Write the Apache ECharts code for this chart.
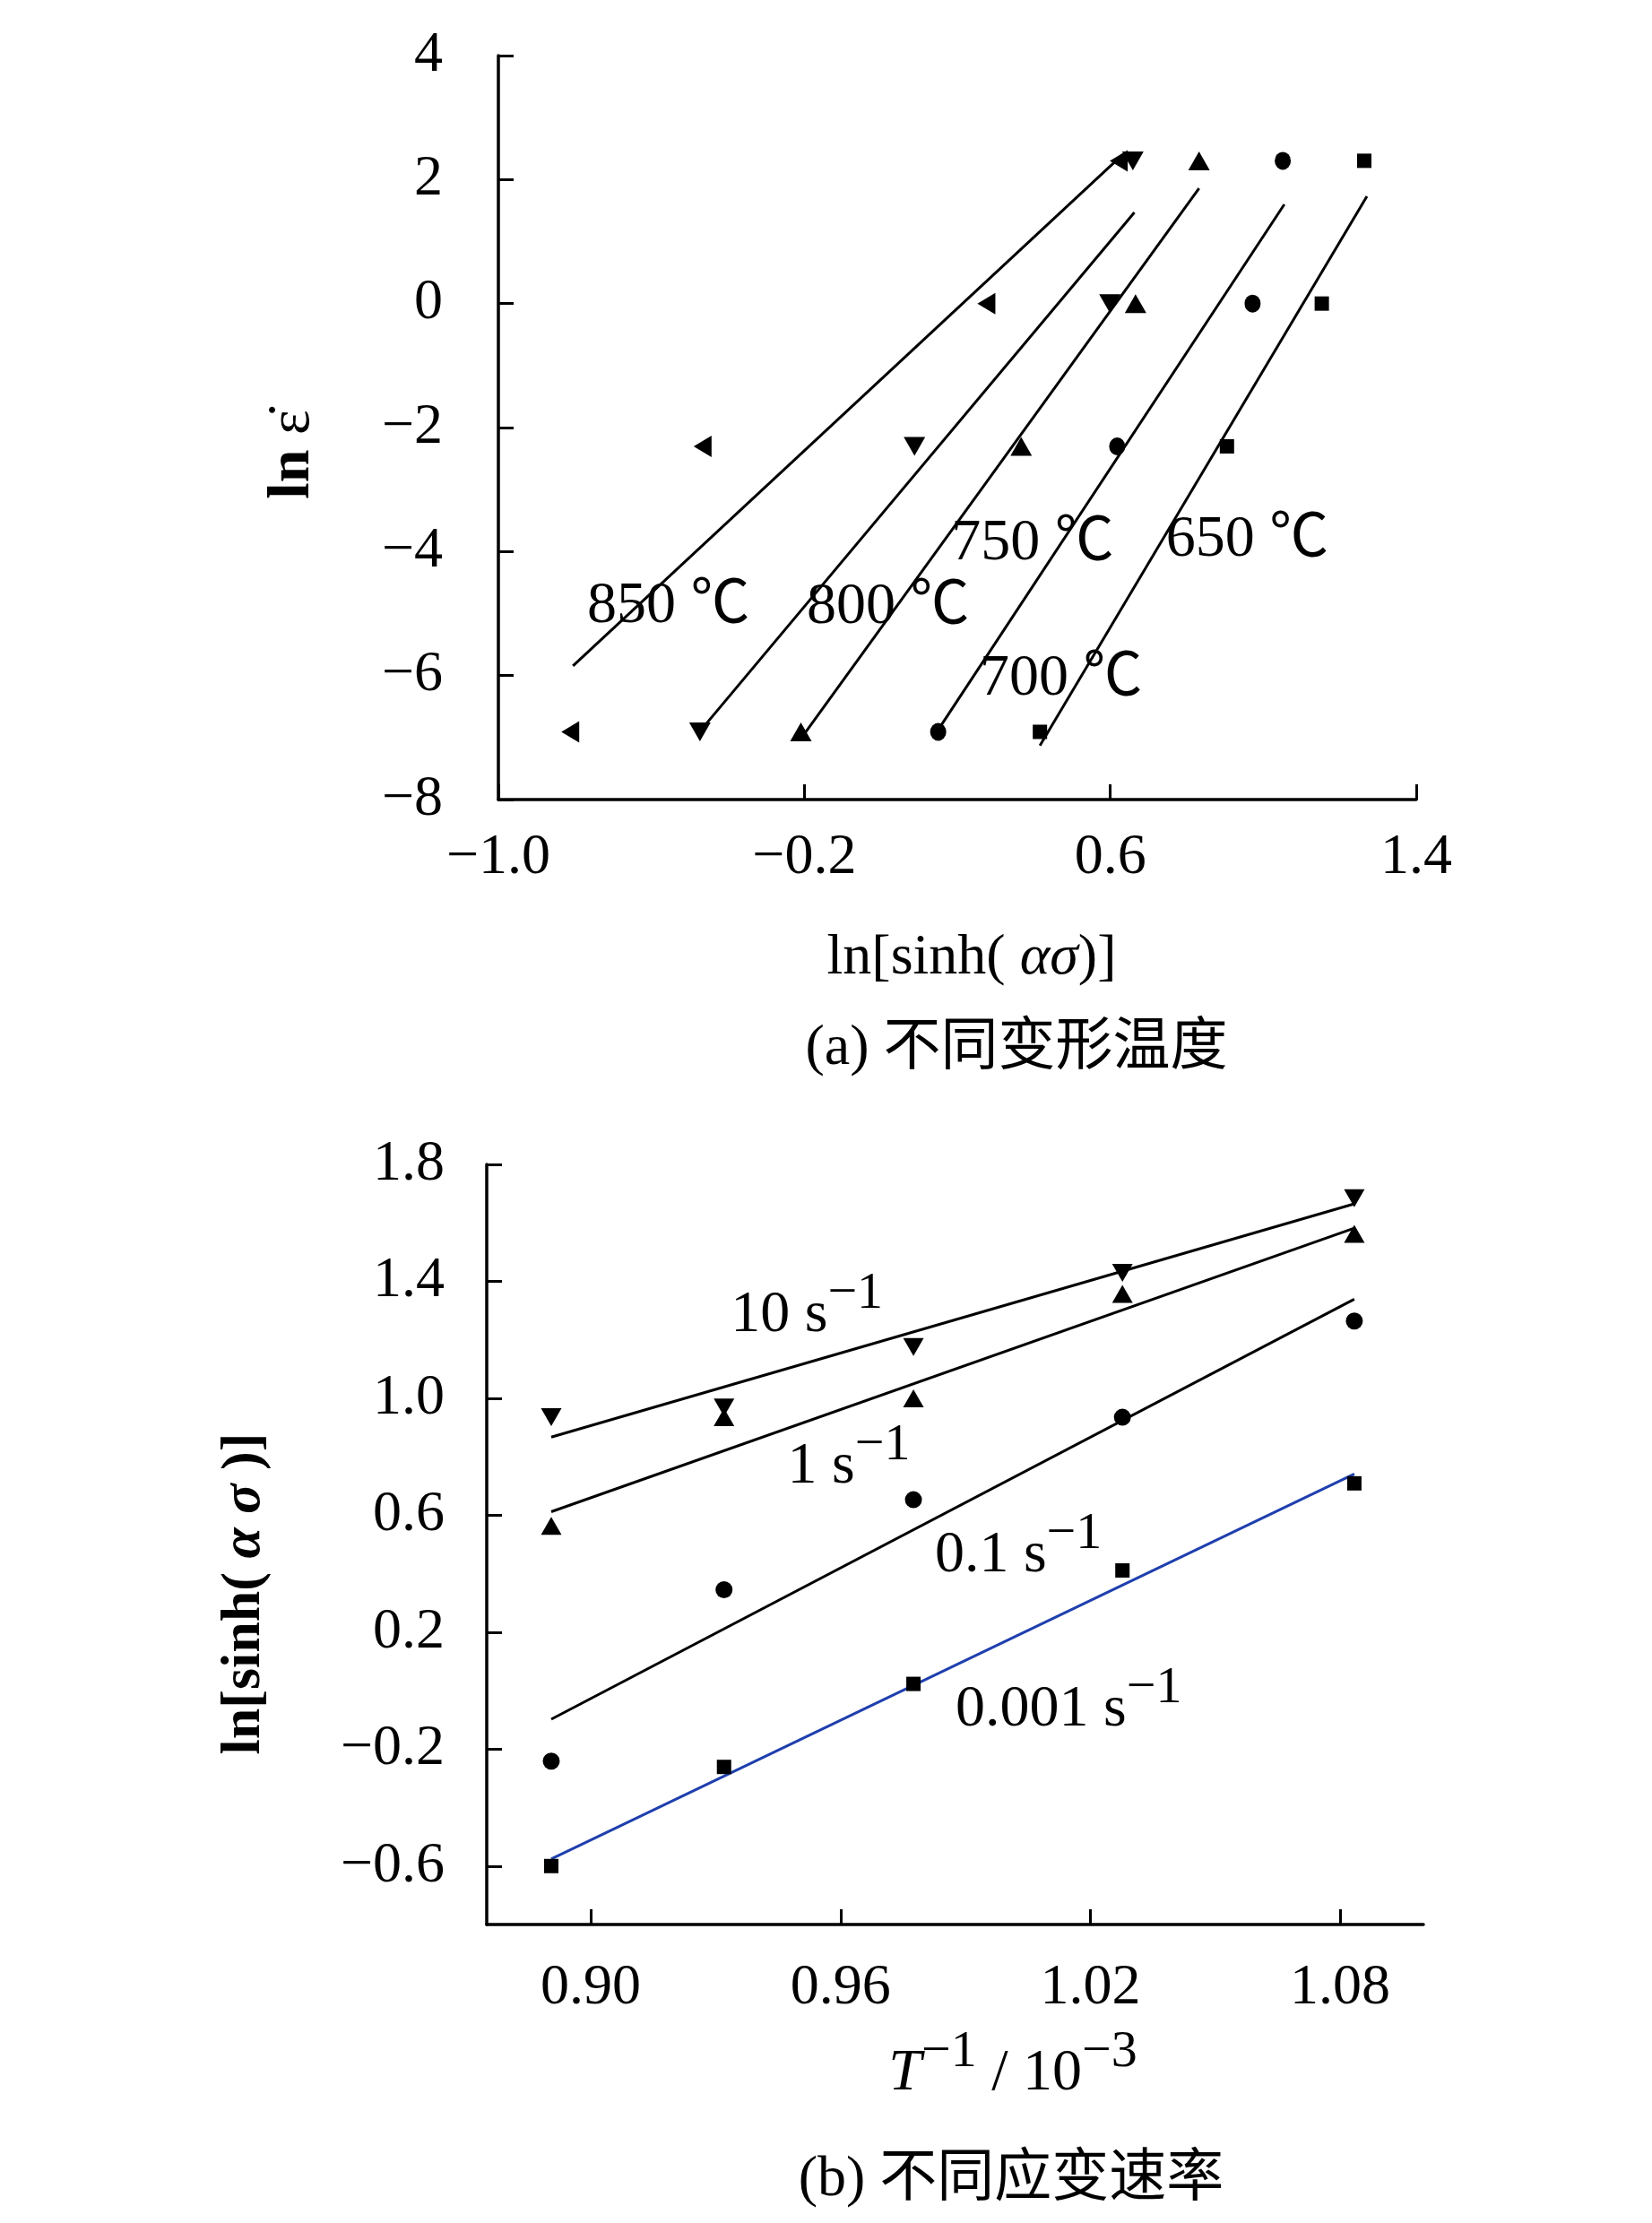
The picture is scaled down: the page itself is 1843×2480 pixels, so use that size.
<!DOCTYPE html>
<html>
<head>
<meta charset="utf-8">
<script src="https://cdn.jsdelivr.net/npm/echarts@6/dist/echarts.min.js"></script>
<style>
    html, body {margin: 0; padding: 0; background: #fff;}
    #chart {width: 1843px; height: 2480px;}
</style>
</head>
<body>
<div id="chart"></div>
<script>
// (a) ln(strain rate) vs ln[sinh(alpha sigma)], one row per strain rate
var lnRate = [2.303, 0, -2.303, -6.908];
var sinh850 = [0.622, 0.276, -0.466, -0.812];
var sinh800 = [0.659, 0.599, 0.088, -0.473];
var sinh750 = [0.832, 0.666, 0.367, -0.209];
var sinh700 = [1.051, 0.972, 0.618, 0.150];
var sinh650 = [1.264, 1.153, 0.905, 0.416];
var fit850 = [[-0.805, -5.845], [0.632, 2.40]];
var fit800 = [[-0.480, -6.95], [0.663, 1.47]];
var fit750 = [[-0.207, -7.00], [0.832, 1.86]];
var fit700 = [[0.157, -6.81], [1.055, 1.60]];
var fit650 = [[0.416, -7.13], [1.271, 1.73]];
var tempNames = ['850 ℃', '800 ℃', '750 ℃', '700 ℃', '650 ℃'];
var tempLabelPos = [[-0.555, -4.89], [0.019, -4.905], [0.397, -3.88], [0.471, -6.06], [0.958, -3.82]];

var xTicksA = [-1.0, -0.2, 0.6, 1.4];
var xLabelsA = ['−1.0', '−0.2', '0.6', '1.4'];
var yTicksA = [-8, -6, -4, -2, 0, 2, 4];
var yLabelsA = ['−8', '−6', '−4', '−2', '0', '2', '4'];

// (b) ln[sinh(alpha sigma)] vs 1/T
var invT = [0.8905, 0.9320, 0.9775, 1.0277, 1.0834];
var s10 = [0.935, 0.968, 1.175, 1.429, 1.684];
var s1 = [0.564, 0.935, 1.000, 1.357, 1.562];
var s01 = [-0.241, 0.345, 0.653, 0.935, 1.264];
var s0001 = [-0.600, -0.261, 0.023, 0.411, 0.709];
var fitEndsX = [0.8905, 1.0834];
var fit10 = [0.867, 1.665];
var fit1 = [0.612, 1.582];
var fit01 = [-0.098, 1.339];
var fit0001 = [-0.576, 0.741];
var rateNames = ['10 s', '1 s', '0.1 s', '0.001 s'];
var rateLabelPos = [[0.9519, 1.288], [0.962, 0.772], [1.0027, 0.466], [1.0148, -0.059]];

var xTicksB = [0.90, 0.96, 1.02, 1.08];
var xLabelsB = ['0.90', '0.96', '1.02', '1.08'];
var yTicksB = [-0.6, -0.2, 0.2, 0.6, 1.0, 1.4, 1.8];
var yLabelsB = ['−0.6', '−0.2', '0.2', '0.6', '1.0', '1.4', '1.8'];

var serif = '"Liberation Serif", "Times New Roman", "Noto Sans CJK SC", serif';

function pick(ticks, labels) {
    return function (v) {
        for (var i = 0; i < ticks.length; i++) {
            if (Math.abs(ticks[i] - v) < 1e-9) return labels[i];
        }
        return '';
    };
}

function axis(grid, min, max, ticks, labels, margin) {
    return {
        type: 'value', gridIndex: grid, min: min, max: max,
        axisLine: {show: true, onZero: false, lineStyle: {color: '#000', width: 3.5}},
        axisTick: {show: true, inside: true, length: 17, customValues: ticks,
            lineStyle: {color: '#000', width: 3}},
        axisLabel: {customValues: ticks, formatter: pick(ticks, labels), color: '#000',
            fontFamily: serif, fontSize: 64, margin: margin},
        splitLine: {show: false}
    };
}

function zip(xs, ys) {
    return xs.map(function (x, i) { return [x, ys[i]]; });
}

function dots(name, grid, data, symbol, size, rotate) {
    return {
        name: name, type: 'scatter', xAxisIndex: grid, yAxisIndex: grid,
        data: data, symbol: symbol, symbolSize: size, symbolRotate: rotate || 0,
        itemStyle: {color: '#000', opacity: 1}, z: 5
    };
}

function fitLine(grid, data, color) {
    return {
        type: 'line', xAxisIndex: grid, yAxisIndex: grid, data: data,
        symbol: 'none', lineStyle: {color: color || '#000', width: 3}, z: 3
    };
}

var supRich = {
    m: {fontFamily: serif, fontSize: 66, color: '#000', verticalAlign: 'bottom', lineHeight: 70},
    s: {fontFamily: serif, fontSize: 58, color: '#000', verticalAlign: 'bottom', lineHeight: 60,
        padding: [0, 0, 28, 0]}
};

var tempPoints = tempNames.map(function (n, i) { return {name: n, value: tempLabelPos[i]}; });
var ratePoints = rateNames.map(function (n, i) { return {name: n, value: rateLabelPos[i]}; });

var chart = echarts.init(document.getElementById('chart'));
chart.setOption({
    animation: false,
    backgroundColor: '#fff',
    grid: [
        {left: 556, top: 62, width: 1024, height: 830, outerBoundsMode: 'none'},
        {left: 543, top: 1299, width: 1045, height: 848, outerBoundsMode: 'none'}
    ],
    xAxis: [
        axis(0, -1.0, 1.4, xTicksA, xLabelsA, 33),
        axis(1, 0.875, 1.10, xTicksB, xLabelsB, 39)
    ],
    yAxis: [
        axis(0, -8, 4, yTicksA, yLabelsA, 62),
        axis(1, -0.8, 1.8, yTicksB, yLabelsB, 47)
    ],
    series: [
        fitLine(0, fit850), fitLine(0, fit800), fitLine(0, fit750),
        fitLine(0, fit700), fitLine(0, fit650),
        dots('850', 0, zip(sinh850, lnRate), 'triangle', [24, 20], 90),
        dots('800', 0, zip(sinh800, lnRate), 'triangle', [24, 21], 180),
        dots('750', 0, zip(sinh750, lnRate), 'triangle', [24, 21]),
        dots('700', 0, zip(sinh700, lnRate), 'circle', [18, 20]),
        dots('650', 0, zip(sinh650, lnRate), 'rect', [16, 16]),
        {
            type: 'scatter', xAxisIndex: 0, yAxisIndex: 0, data: tempPoints,
            symbolSize: 1, itemStyle: {color: 'rgba(0,0,0,0)', opacity: 1}, silent: true, z: 6,
            label: {show: true, position: 'inside', formatter: '{b}', color: '#000',
                textBorderWidth: 0, fontFamily: serif, fontSize: 66}
        },
        fitLine(1, zip(fitEndsX, fit10)), fitLine(1, zip(fitEndsX, fit1)),
        fitLine(1, zip(fitEndsX, fit01)), fitLine(1, zip(fitEndsX, fit0001), '#1f3fae'),
        dots('10', 1, zip(invT, s10), 'triangle', [23, 20], 180),
        dots('1', 1, zip(invT, s1), 'triangle', [23, 20]),
        dots('0.1', 1, zip(invT, s01), 'circle', [19, 19]),
        dots('0.001', 1, zip(invT, s0001), 'rect', [16, 16]),
        {
            type: 'scatter', xAxisIndex: 1, yAxisIndex: 1, data: ratePoints,
            symbolSize: 1, itemStyle: {color: 'rgba(0,0,0,0)', opacity: 1}, silent: true, z: 6,
            label: {show: true, position: 'inside', rich: supRich, color: '#000', textBorderWidth: 0,
                formatter: function (p) { return '{m|' + p.name + '}{s|−1}'; }}
        }
    ],
    graphic: [
        {type: 'text', x: 327, y: 507, rotation: Math.PI / 2, style: {
            text: '{b|ln }{e|ε̇}', align: 'center', verticalAlign: 'middle',
            rich: {
                b: {fontFamily: serif, fontSize: 66, fontWeight: 'bold', fill: '#000'},
                e: {fontFamily: serif, fontSize: 66, fill: '#000'}
            }}},
        {type: 'text', x: 1084, y: 1069, style: {
            text: '{n|ln[sinh( }{i|ασ}{n|)]}', align: 'center', verticalAlign: 'middle',
            rich: {
                n: {fontFamily: serif, fontSize: 64, fill: '#000'},
                i: {fontFamily: serif, fontSize: 64, fontStyle: 'italic', fill: '#000'}
            }}},
        {type: 'text', x: 1134, y: 1170, style: {
            text: '(a) 不同变形温度', align: 'center', verticalAlign: 'middle',
            fontFamily: serif, fontSize: 64, fill: '#000'}},
        {type: 'text', x: 273, y: 1778, rotation: Math.PI / 2, style: {
            text: '{b|ln[sinh( }{i|α σ}{b| )]}', align: 'center', verticalAlign: 'middle',
            rich: {
                b: {fontFamily: serif, fontSize: 62, fontWeight: 'bold', fill: '#000'},
                i: {fontFamily: serif, fontSize: 62, fontWeight: 'bold', fontStyle: 'italic', fill: '#000'}
            }}},
        {type: 'text', x: 1130, y: 2312, style: {
            text: '{i|T}{s|−1}{m| / 10}{s|−3}', align: 'center', verticalAlign: 'middle',
            rich: {
                i: {fontFamily: serif, fontSize: 66, fontStyle: 'italic', fill: '#000',
                    verticalAlign: 'bottom', lineHeight: 70},
                m: supRich.m,
                s: supRich.s
            }}},
        {type: 'text', x: 1128, y: 2432, style: {
            text: '(b) 不同应变速率', align: 'center', verticalAlign: 'middle',
            fontFamily: serif, fontSize: 64, fill: '#000'}}
    ]
});
</script>
</body>
</html>
